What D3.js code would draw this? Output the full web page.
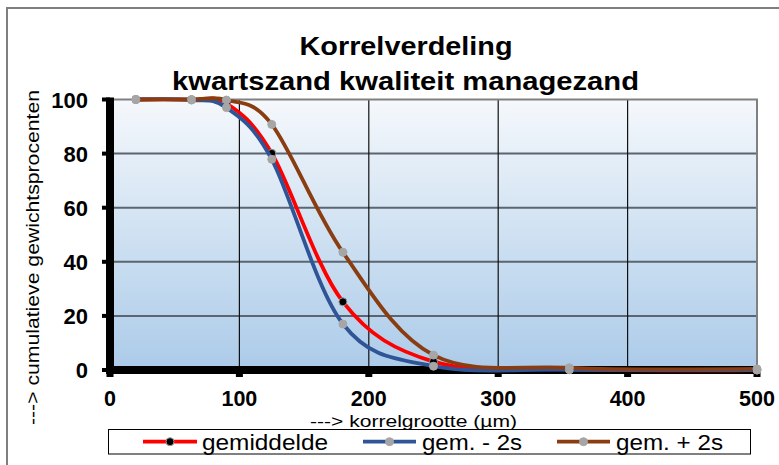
<!DOCTYPE html>
<html>
<head>
<meta charset="utf-8">
<script src="https://cdn.jsdelivr.net/npm/d3@7"></script>
<style>
  html, body { margin: 0; padding: 0; background: #fff; }
  svg { display: block; font-family: "Liberation Sans", Arial, sans-serif; }
</style>
</head>
<body>
<svg id="chart" width="779" height="465"></svg>
<script>
// ---- data ----
const sizes = [20, 63, 90, 125, 180, 250, 355, 500];           // korrelgrootte (µm)
const gemiddelde = [100, 99.9, 98.6, 80.1, 25.2, 3.1, 0.2, 0.0];
const gemMin2s   = [100, 99.8, 97.0, 77.9, 17.0, 1.4, 0.1, 0.0];
const gemPlus2s  = [100, 100, 99.8, 90.8, 43.5, 5.5, 0.8, 0.4];
const seriesNames = ["gemiddelde", "gem. - 2s", "gem. + 2s"];
const xTicks = [0, 100, 200, 300, 400, 500];
const yTicks = [0, 20, 40, 60, 80, 100];
const titleLines = ["Korrelverdeling", "kwartszand kwaliteit managezand"];
const xTitle = "---> korrelgrootte (\u00b5m)";
const yTitle = "---> cumulatieve gewichtsprocenten";

const series = [
  { name: seriesNames[0], values: gemiddelde, color: "#ff0000", marker: "#000000", mstroke: "#9a9a9a" },
  { name: seriesNames[1], values: gemMin2s,   color: "#2f5597", marker: "#a6a6a6", mstroke: "#a6a6a6" },
  { name: seriesNames[2], values: gemPlus2s,  color: "#8a3d10", marker: "#a6a6a6", mstroke: "#a6a6a6" }
];

const svg = d3.select("#chart");
const x = d3.scaleLinear().domain([0, 500]).range([110, 757]);
const y = d3.scaleLinear().domain([0, 100]).range([370, 99.5]);

// outer chart border
svg.append("rect").attr("x", 7).attr("y", 8).attr("width", 800).attr("height", 500)
  .attr("fill", "#fff").attr("stroke", "#7f7f7f").attr("stroke-width", 2);

// plot background gradient
const defs = svg.append("defs");
const grad = defs.append("linearGradient").attr("id", "bg").attr("x1", 0).attr("y1", 0).attr("x2", 0).attr("y2", 1);
grad.append("stop").attr("offset", "0%").attr("stop-color", "#f5f8fc");
grad.append("stop").attr("offset", "50%").attr("stop-color", "#cfe1f2");
grad.append("stop").attr("offset", "100%").attr("stop-color", "#accbe9");
svg.append("rect").attr("x", x(0)).attr("y", y(100)).attr("width", x(500) - x(0)).attr("height", y(0) - y(100))
  .attr("fill", "url(#bg)");

// gridlines
svg.append("g").selectAll("line").data(yTicks.filter(d => d > 0 && d < 100)).join("line")
  .attr("x1", x(0)).attr("x2", x(500)).attr("y1", d => y(d)).attr("y2", d => y(d))
  .attr("stroke", "#5b6570").attr("stroke-width", 2);
svg.append("g").selectAll("line").data(xTicks.filter(d => d > 0 && d < 500)).join("line")
  .attr("x1", d => x(d)).attr("x2", d => x(d)).attr("y1", y(100)).attr("y2", y(0))
  .attr("stroke", "#111").attr("stroke-width", 1.2);
// plot border top/right
svg.append("path").attr("d", `M${x(0)},${y(100)}H${x(500)}V${y(0)}`)
  .attr("fill", "none").attr("stroke", "#808080").attr("stroke-width", 2);

// axes (thick black lines with tick stubs)
const axG = svg.append("g");
axG.append("line").attr("x1", x(0)).attr("x2", x(0)).attr("y1", y(100) - 2).attr("y2", y(0) + 4)
  .attr("stroke", "#000").attr("stroke-width", 8);
axG.append("line").attr("x1", x(0) - 4).attr("x2", x(500) - 2).attr("y1", y(0)).attr("y2", y(0))
  .attr("stroke", "#000").attr("stroke-width", 8);
axG.selectAll("rect.yt").data(yTicks).join("rect").attr("class", "yt")
  .attr("x", x(0) - 8).attr("y", d => y(d) - 2).attr("width", 8).attr("height", 4).attr("fill", "#000");
axG.selectAll("rect.xt").data(xTicks).join("rect").attr("class", "xt")
  .attr("x", d => x(d) - 3.5).attr("y", y(0)).attr("width", 7).attr("height", 7).attr("fill", "#000");

// tick labels
svg.append("g").selectAll("text").data(yTicks).join("text")
  .attr("x", 88).attr("y", d => y(d) + 8).attr("text-anchor", "end")
  .attr("font-size", 22).attr("font-weight", "bold").attr("fill", "#000").text(d => d);
svg.append("g").selectAll("text").data(xTicks).join("text")
  .attr("x", d => x(d)).attr("y", 405.5).attr("text-anchor", "middle")
  .attr("font-size", 21.5).attr("font-weight", "bold").attr("fill", "#000").text(d => d);

// titles
svg.append("text").attr("x", 406).attr("y", 55).attr("text-anchor", "middle")
  .attr("font-size", 25).attr("font-weight", "bold").attr("textLength", 213).attr("lengthAdjust", "spacingAndGlyphs")
  .text(titleLines[0]);
svg.append("text").attr("x", 405.5).attr("y", 90).attr("text-anchor", "middle")
  .attr("font-size", 25).attr("font-weight", "bold").attr("textLength", 467).attr("lengthAdjust", "spacingAndGlyphs")
  .text(titleLines[1]);
svg.append("text").attr("x", 413.5).attr("y", 426.5).attr("text-anchor", "middle")
  .attr("font-size", 17).attr("textLength", 207).attr("lengthAdjust", "spacingAndGlyphs")
  .text(xTitle);
svg.append("text").attr("transform", "translate(39,257.5) rotate(-90)").attr("text-anchor", "middle")
  .attr("font-size", 17.5).attr("textLength", 335).attr("lengthAdjust", "spacingAndGlyphs")
  .text(yTitle);

// series
const line = d3.line().x((d, i) => x(sizes[i])).y(d => y(d)).curve(d3.curveCatmullRom.alpha(0));
series.forEach(s => {
  const g = svg.append("g");
  g.append("path").attr("d", line(s.values)).attr("fill", "none")
    .attr("stroke", s.color).attr("stroke-width", 3.8).attr("stroke-linejoin", "round");
  g.selectAll("circle").data(s.values).join("circle")
    .attr("cx", (d, i) => x(sizes[i])).attr("cy", d => y(d)).attr("r", 4)
    .attr("fill", s.marker).attr("stroke", s.mstroke).attr("stroke-width", 1);
});

// legend
const lg = svg.append("g");
lg.append("rect").attr("x", 108.5).attr("y", 429.5).attr("width", 642).attr("height", 24.5)
  .attr("fill", "#fff").attr("stroke", "#000").attr("stroke-width", 1);
const legendPos = [
  { x1: 143, x2: 197, tx: 202, tl: 126 },
  { x1: 363, x2: 416, tx: 422, tl: 100 },
  { x1: 557, x2: 610, tx: 616, tl: 107 }
];
series.forEach((s, i) => {
  const p = legendPos[i];
  lg.append("line").attr("x1", p.x1).attr("x2", p.x2).attr("y1", 441.7).attr("y2", 441.7)
    .attr("stroke", s.color).attr("stroke-width", 3.8);
  lg.append("circle").attr("cx", (p.x1 + p.x2) / 2).attr("cy", 441.7).attr("r", 4)
    .attr("fill", s.marker).attr("stroke", s.mstroke).attr("stroke-width", 1);
  lg.append("text").attr("x", p.tx).attr("y", 450).attr("font-size", 22)
    .attr("textLength", p.tl).attr("lengthAdjust", "spacingAndGlyphs").text(s.name);
});
</script>
</body>
</html>
